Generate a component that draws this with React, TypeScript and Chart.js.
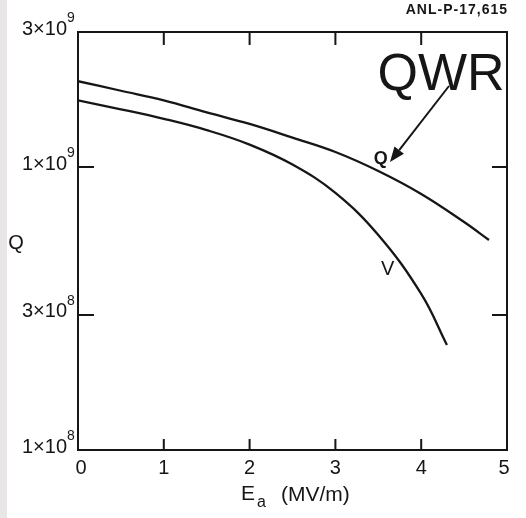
import React, { useEffect, useRef } from "react";
import { Chart, registerables } from "chart.js";

Chart.register(...registerables);

const eaValuesQ = [0, 0.5, 1, 1.5, 2, 2.5, 3, 3.5, 4, 4.5, 4.79];
const qValues = [2.01e9, 1.86e9, 1.72e9, 1.56e9, 1.42e9, 1.27e9, 1.13e9, 9.68e8, 8.03e8, 6.39e8, 5.52e8];
const eaValuesV = [0, 0.5, 1, 1.5, 2, 2.5, 3, 3.5, 4, 4.3];
const vValues = [1.72e9, 1.6e9, 1.48e9, 1.35e9, 1.2e9, 1.02e9, 8.1e8, 5.75e8, 3.56e8, 2.35e8];

const xTicks = [0, 1, 2, 3, 4, 5];
const yTickMantissa = ["3", "1", "3", "1"];
const yTickExp = ["9", "9", "8", "8"];
const yTickValues = [3e9, 1e9, 3e8, 1e8];

const INK = "#161616";
const FONT = "'Liberation Sans', Arial, sans-serif";

const overlay = {
  id: "overlay",
  beforeDatasetsDraw(chart: any) {
    const { ctx, chartArea: a } = chart;
    ctx.save();
    ctx.fillStyle = "#e9e7e5";
    ctx.fillRect(0, 0, 7, chart.height);
    ctx.strokeStyle = INK;
    ctx.lineWidth = 2;
    ctx.strokeRect(a.left, a.top, a.right - a.left, a.bottom - a.top);
    const xs = chart.scales.x;
    const ys = chart.scales.y;
    for (const v of xTicks) {
      if (v === 0 || v === 5) continue;
      const px = xs.getPixelForValue(v);
      ctx.beginPath();
      ctx.moveTo(px, a.bottom);
      ctx.lineTo(px, a.bottom - 11);
      ctx.moveTo(px, a.top);
      ctx.lineTo(px, a.top + 13);
      ctx.stroke();
    }
    for (const v of [1e9, 3e8]) {
      const py = ys.getPixelForValue(v);
      ctx.beginPath();
      ctx.moveTo(a.left, py);
      ctx.lineTo(a.left + 16, py);
      ctx.moveTo(a.right, py);
      ctx.lineTo(a.right - 15, py);
      ctx.stroke();
    }
    ctx.restore();
  },
  afterDraw(chart: any) {
    const { ctx, chartArea: a } = chart;
    const xs = chart.scales.x;
    const ys = chart.scales.y;
    ctx.save();
    ctx.fillStyle = INK;
    ctx.strokeStyle = INK;
    ctx.font = `20px ${FONT}`;
    ctx.textAlign = "center";
    ctx.textBaseline = "middle";
    for (const v of xTicks) {
      let px = xs.getPixelForValue(v);
      if (v === 0) px += 3;
      if (v === 5) px -= 3;
      ctx.fillText(String(v), px, a.bottom + 18);
    }
    yTickValues.forEach((v, i) => {
      const py = ys.getPixelForValue(v) - 3;
      ctx.font = `20px ${FONT}`;
      ctx.textAlign = "right";
      ctx.textBaseline = "middle";
      ctx.fillText(yTickMantissa[i] + "\u00d710", a.left - 11, py);
      ctx.font = `14px ${FONT}`;
      ctx.textAlign = "left";
      ctx.fillText(yTickExp[i], a.left - 11, py - 11);
    });
    ctx.font = `20px ${FONT}`;
    ctx.textAlign = "center";
    ctx.textBaseline = "middle";
    ctx.fillText("Q", 16, 243);
    ctx.font = `21px ${FONT}`;
    ctx.textAlign = "left";
    ctx.textBaseline = "alphabetic";
    ctx.fillText("E", 241, 500);
    ctx.font = `16px ${FONT}`;
    ctx.fillText("a", 257, 507);
    ctx.font = `21px ${FONT}`;
    ctx.fillText("(MV/m)", 281, 501);
    ctx.font = `bold 14px ${FONT}`;
    (ctx as any).letterSpacing = "1px";
    ctx.textAlign = "right";
    ctx.textBaseline = "middle";
    ctx.fillText("ANL-P-17,615", 508, 10);
    (ctx as any).letterSpacing = "0px";
    ctx.font = `bold 18px ${FONT}`;
    ctx.textAlign = "center";
    ctx.fillText("Q", xs.getPixelForValue(3.53), ys.getPixelForValue(1.07e9));
    ctx.font = `20px ${FONT}`;
    ctx.fillText("V", xs.getPixelForValue(3.61), ys.getPixelForValue(4.36e8));
    ctx.font = `52px ${FONT}`;
    ctx.textBaseline = "alphabetic";
    ctx.fillText("QWR", 441, 90);
    const x0 = 449, y0 = 86, x1 = 390, y1 = 162;
    const ang = Math.atan2(y1 - y0, x1 - x0);
    const hl = 15, hw = 6;
    const bx = x1 - hl * Math.cos(ang), by = y1 - hl * Math.sin(ang);
    ctx.lineWidth = 2;
    ctx.beginPath();
    ctx.moveTo(x0, y0);
    ctx.lineTo(bx, by);
    ctx.stroke();
    ctx.beginPath();
    ctx.moveTo(x1, y1);
    ctx.lineTo(bx + hw * Math.sin(ang), by - hw * Math.cos(ang));
    ctx.lineTo(bx - hw * Math.sin(ang), by + hw * Math.cos(ang));
    ctx.closePath();
    ctx.fill();
    ctx.restore();
  },
};

export default function App() {
  const ref = useRef<HTMLCanvasElement | null>(null);
  useEffect(() => {
    if (!ref.current) return;
    const chart = new Chart(ref.current, {
      type: "line",
      data: {
        datasets: [
          {
            label: "Q",
            data: eaValuesQ.map((x, i) => ({ x, y: qValues[i] })),
            borderColor: INK,
            borderWidth: 2.3,
            pointRadius: 0,
            tension: 0.4,
            fill: false,
          },
          {
            label: "V",
            data: eaValuesV.map((x, i) => ({ x, y: vValues[i] })),
            borderColor: INK,
            borderWidth: 2.3,
            pointRadius: 0,
            tension: 0.4,
            fill: false,
          },
        ],
      },
      options: {
        responsive: false,
        animation: false,
        layout: { padding: { left: 78, top: 32, right: 19, bottom: 68 } },
        plugins: { legend: { display: false }, tooltip: { enabled: false } },
        scales: {
          x: { type: "linear", min: 0, max: 5, display: false },
          y: { type: "logarithmic", min: 1e8, max: 3e9, display: false },
        },
      },
      plugins: [overlay],
    });
    return () => chart.destroy();
  }, []);
  return (
    <div style={{ position: "absolute", left: 0, top: 0, width: 526, height: 518, background: "#fff" }}>
      <canvas ref={ref} width={526} height={518} style={{ display: "block" }} />
    </div>
  );
}
